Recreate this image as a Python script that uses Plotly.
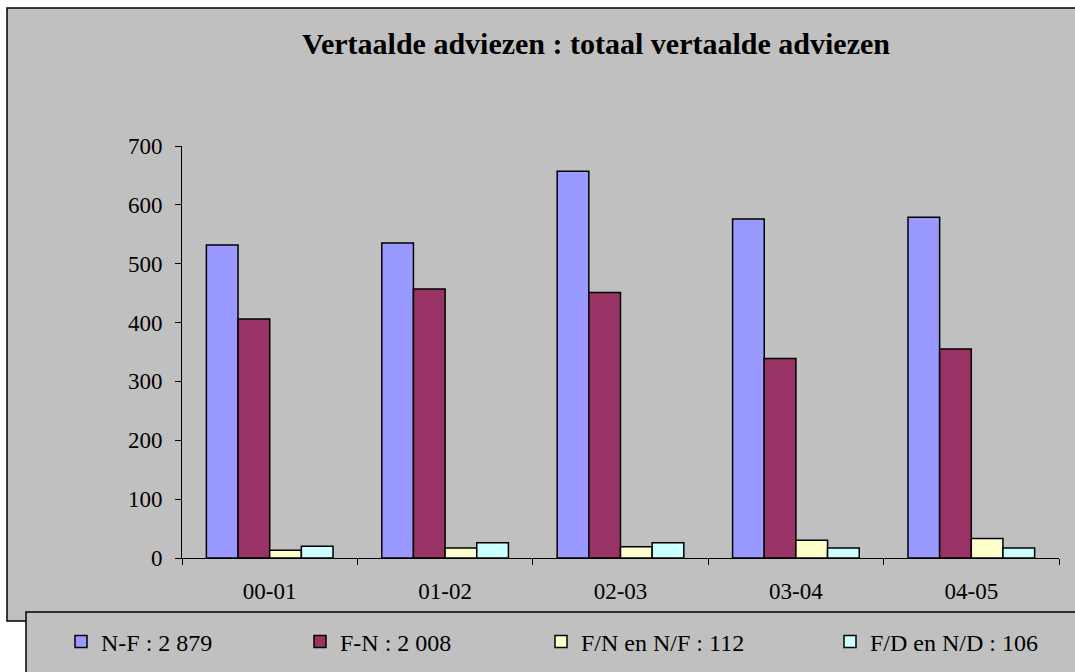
import plotly.graph_objects as go

# Academic years on the category axis
years = ["00-01", "01-02", "02-03", "03-04", "04-05"]

# Number of translated advices per language direction
nf_values = [532, 535, 657, 576, 579]      # N-F : 2 879
fn_values = [406, 457, 451, 339, 355]      # F-N : 2 008
fn_nf_values = [13, 17, 19, 30, 33]        # F/N en N/F : 112
fd_nd_values = [20, 26, 26, 17, 17]        # F/D en N/D : 106

series_names = ["N-F : 2 879", "F-N : 2 008", "F/N en N/F : 112", "F/D en N/D : 106"]
series_values = [nf_values, fn_values, fn_nf_values, fd_nd_values]
series_colors = ["#9999FF", "#993366", "#FFFFCC", "#CCFFFF"]

y_ticks = [0, 100, 200, 300, 400, 500, 600, 700]

W, H = 1075, 672
L, R, T, B = 182, 16, 146, 114
PW, PH = W - L - R, H - T - B


def px_x(x):
    return (x - L) / PW


def px_y(y):
    return (H - B - y) / PH


SERIF = "Liberation Serif, Times New Roman, serif"

fig = go.Figure()
legend_ids = ["legend", "legend2", "legend3", "legend4"]
legend_text_x = [101, 340, 581, 870]

for name, vals, color, lid in zip(series_names, series_values, series_colors, legend_ids):
    fig.add_trace(go.Bar(
        x=years, y=vals, name=name,
        marker=dict(color=color, line=dict(color="black", width=1.5)),
        legend=lid,
    ))

layout_legends = {}
for lid, tx in zip(legend_ids, legend_text_x):
    layout_legends[lid] = dict(
        xref="container", yref="container",
        x=(tx - 40) / W, xanchor="left",
        y=1 - 642 / H, yanchor="middle",
        bgcolor="rgba(0,0,0,0)", borderwidth=0,
        font=dict(family=SERIF, size=24, color="black"),
        orientation="h",
    )

fig.update_layout(
    width=W, height=H,
    margin=dict(l=L, r=R, t=T, b=B, pad=0, autoexpand=False),
    paper_bgcolor="white",
    plot_bgcolor="rgba(0,0,0,0)",
    barmode="group",
    bargap=0.278,
    bargroupgap=0,
    showlegend=True,
    title=dict(
        text="<b>Vertaalde adviezen : totaal vertaalde adviezen</b>",
        x=596 / W, xanchor="center", xref="container",
        y=1 - 43 / H, yanchor="middle", yref="container",
        font=dict(family=SERIF, size=30, color="black"),
    ),
    font=dict(family=SERIF, size=23, color="black"),
    xaxis=dict(
        type="category",
        showline=True, linecolor="black", linewidth=1,
        ticks="outside", ticklen=6, tickcolor="black", tickwidth=1,
        tickson="boundaries", showgrid=False, zeroline=False,
        tickfont=dict(family=SERIF, size=23, color="black"),
        ticklabelstandoff=12,
    ),
    yaxis=dict(
        range=[0, 700], tickvals=y_ticks,
        showline=True, linecolor="black", linewidth=1,
        ticks="outside", ticklen=6, tickcolor="black", tickwidth=1,
        showgrid=False, zeroline=False,
        tickfont=dict(family=SERIF, size=23, color="black"),
        ticklabelstandoff=8,
    ),
    shapes=[
        # chart frame
        dict(type="rect", xref="paper", yref="paper", layer="below",
             x0=px_x(7), x1=px_x(W + 20), y0=px_y(621), y1=px_y(8),
             fillcolor="#C0C0C0", line=dict(color="black", width=1.5)),
        # legend box
        dict(type="rect", xref="paper", yref="paper", layer="below",
             x0=px_x(26), x1=px_x(W + 20), y0=px_y(H + 20), y1=px_y(612),
             fillcolor="#C0C0C0", line=dict(color="black", width=1.5)),
    ],
    **layout_legends,
)

fig.write_html("out.html")
